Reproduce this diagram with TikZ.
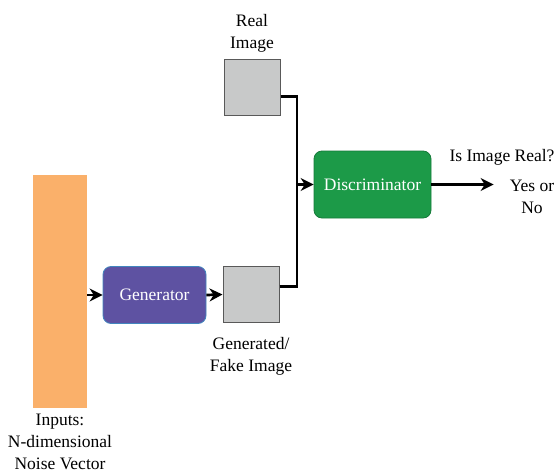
\documentclass[tikz,border=0pt]{standalone}
\usepackage{fontspec}
\setmainfont{Liberation Serif}
\usepackage{tikz}
\usetikzlibrary{arrows.meta,% stealth arrow tips
positioning}
\definecolor{noiseorange}{RGB}{250,176,106}
\definecolor{genpurple}{RGB}{94,82,162}
\definecolor{discgreen}{RGB}{28,154,72}
\definecolor{imggray}{RGB}{200,201,201}
\tikzset{every node/.style={font=\fontsize{17.5}{22}\selectfont},
  inputbar/.style={fill=noiseorange,minimum width=54pt,minimum height=233pt,inner sep=0pt},
  netbox/.style={rounded corners=8pt,text=white,minimum height=57pt,inner sep=0pt,line width=0.8pt},
  imgbox/.style={fill=imggray,draw=black!65,line width=1pt,minimum width=56pt,minimum height=56pt,inner sep=0pt},
  caption/.style={align=center,inner sep=0pt},
  wire/.style={line width=2.7pt,line join=miter},
  flow/.style={wire,-{Stealth[length=13pt,width=13pt]}}}

\begin{document}
\begin{tikzpicture}[x=1pt,y=-1pt]
    \useasboundingbox (0,0) rectangle (557,474);
    % inputs and generator
    \node[inputbar] (noise) at (60,291.5) {};
    \node[caption,below=6pt of noise] (noiselabel) {Inputs:\\N-dimensional\\Noise Vector};
    \node[netbox,fill=genpurple,draw=genpurple!70!cyan,minimum width=103pt] (generator) at (154.5,295) {Generator};
    \node[imgbox] (fakeimg) at (251,294.5) {};
    \node[caption,below=14pt of fakeimg] (fakelabel) {Generated/\\Fake Image};
    % real images
    \node[imgbox] (realimg) at (252,87.5) {};
    \node[caption,above=7pt of realimg] (reallabel) {Real\\Image};
    % discriminator and answer
    \node[netbox,fill=discgreen,draw=discgreen!80!black,minimum width=117pt,minimum height=67pt] (disc) at (372.5,184.5) {Discriminator};
    \node[caption] (question) at (502,157) {Is Image Real?};
    \node[caption] (answer) at (532,197) {Yes or\\No};
    \coordinate (join) at (297,184.5);
    \draw[flow] (noise.east |- generator.west) -- (generator.west);
    \draw[flow] (generator.east) -- (fakeimg.west);
    \draw[wire] ([yshift=-9pt]realimg.east) -| (join);
    \draw[wire] ([yshift=8pt]fakeimg.east) -| (join);
    \draw[flow] (join) -- (disc.west);
    \draw[flow,shorten >=16pt] (disc.east) -- (answer.west |- disc.east);
  \end{tikzpicture}
\end{document}
